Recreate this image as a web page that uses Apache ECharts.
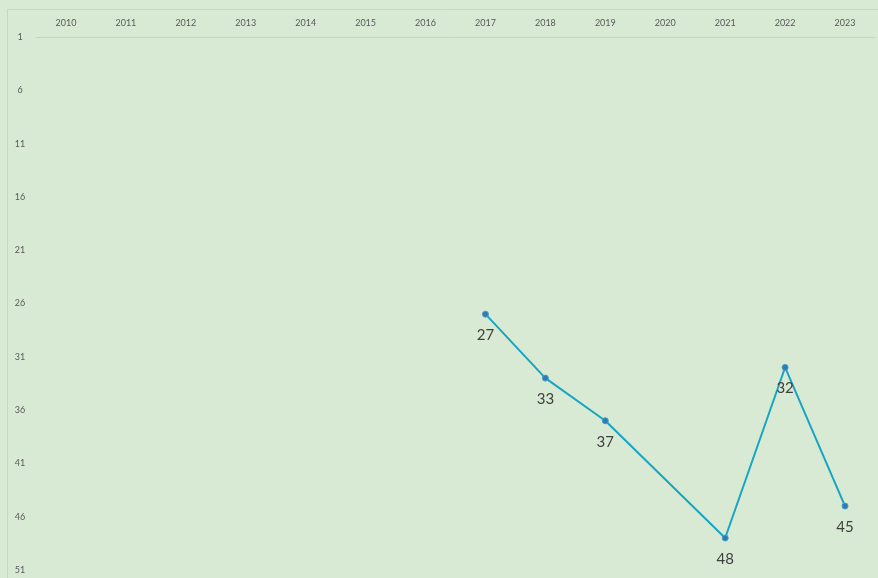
<!DOCTYPE html>
<html>
<head>
<meta charset="utf-8">
<script src="https://cdn.jsdelivr.net/npm/echarts@6/dist/echarts.min.js"></script>
<style>
  html, body { margin: 0; padding: 0; background: #d9ead4; }
  #chart { width: 878px; height: 578px; }
</style>
</head>
<body>
<div id="chart"></div>
<script>
var years = ['2010', '2011', '2012', '2013', '2014', '2015', '2016', '2017', '2018', '2019', '2020', '2021', '2022', '2023'];
// 2020 has no point, the line just runs over it
var ranks = [null, null, null, null, null, null, null, 27, 33, 37, null, 48, 32, 45];

var myChart = echarts.init(document.getElementById('chart'));

var option = {
    backgroundColor: '#d9ead4',
    animation: false,
    textStyle: { fontFamily: 'Lato, "Open Sans", sans-serif' },
    graphic: [{
        type: 'rect',
        shape: { x: 7.5, y: 9.5, width: 900, height: 600 },
        style: { fill: 'none', stroke: '#c9d3c6', lineWidth: 1 },
        silent: true
    }],
    grid: { left: 36, right: 3, top: 37, bottom: 8 },
    xAxis: {
        type: 'category',
        position: 'top',
        data: years,
        boundaryGap: true,
        axisLine: { lineStyle: { color: '#c8d2c5', width: 1 } },
        axisTick: { show: false },
        axisLabel: { color: '#595959', fontSize: 9, margin: 9 }
    },
    yAxis: {
        type: 'value',
        inverse: true,
        min: 1,
        max: 51,
        interval: 5,
        axisLine: { show: false },
        axisTick: { show: false },
        splitLine: { show: false },
        axisLabel: { color: '#595959', fontSize: 9, margin: 16, align: 'center' }
    },
    series: [{
        type: 'line',
        data: ranks,
        connectNulls: true,
        symbol: 'circle',
        symbolSize: 6,
        lineStyle: { color: '#17a5c2', width: 2 },
        itemStyle: { color: '#2e7bb6', borderColor: '#4a9bc4', borderWidth: 1 },
        label: {
            show: true,
            position: 'bottom',
            distance: 10,
            color: '#404040',
            fontSize: 15
        }
    }]
};

myChart.setOption(option);
window.addEventListener('resize', myChart.resize);
</script>
</body>
</html>
